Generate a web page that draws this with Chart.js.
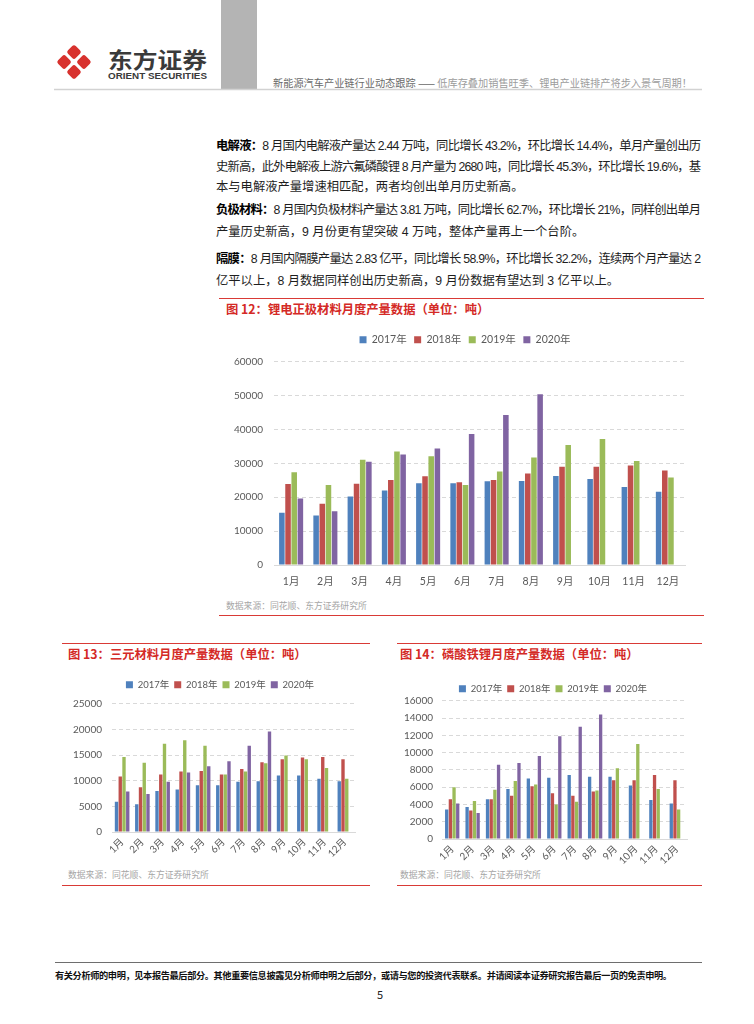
<!DOCTYPE html>
<html>
<head>
<meta charset="utf-8">
<script src="https://cdn.jsdelivr.net/npm/chart.js@4.4.0/dist/chart.umd.min.js"></script>
<style>
html, body { margin: 0; padding: 0; background: #fff; }
#page { position: relative; width: 754px; height: 1024px; overflow: hidden; }
#deco { position: absolute; left: 0; top: 0; }
canvas { position: absolute; }
</style>
</head>
<body>
<div id="page">
<svg id="deco" width="754" height="1024" font-family="'Noto Sans CJK SC', sans-serif">
  <!-- header -->
  <rect x="221" y="0" width="36" height="89" fill="#b4b4b4"/>
  <line x1="54" y1="89.5" x2="702" y2="89.5" stroke="#d2d2d2" stroke-width="1.5"/>
  <g transform="translate(74 62) rotate(45)" fill="#d8322e">
    <rect x="-12.5" y="-12.5" width="11" height="11" rx="2.5"/>
    <rect x="1.5" y="-12.5" width="11" height="11" rx="2.5"/>
    <rect x="-12.5" y="1.5" width="11" height="11" rx="2.5"/>
    <rect x="1.5" y="1.5" width="11" height="11" rx="2.5"/>
  </g>
  <text x="108" y="58" font-size="22" font-weight="bold" fill="#3a3a3a" textLength="99" lengthAdjust="spacingAndGlyphs" dominant-baseline="central">东方证券</text>
  <text x="108" y="76" font-family="'Liberation Sans', sans-serif" font-size="8.5" font-weight="bold" fill="#3a3a3a" textLength="99" lengthAdjust="spacingAndGlyphs" dominant-baseline="central">ORIENT SECURITIES</text>
  <text x="273" y="82" font-size="10.2" textLength="419" lengthAdjust="spacing" dominant-baseline="central"><tspan fill="#6a6a6a">新能源汽车产业链行业动态跟踪 —— </tspan><tspan fill="#9c9c9c">低库存叠加销售旺季、锂电产业链排产将步入景气周期！</tspan></text>

  <!-- body text -->
  <g font-size="12.3" fill="#1e1e1e" font-family="'Liberation Sans', 'Noto Sans CJK SC', sans-serif">
    <text x="216" y="146" textLength="485" lengthAdjust="spacing" dominant-baseline="central"><tspan font-weight="bold" fill="#000">电解液：</tspan>8 月国内电解液产量达 2.44 万吨，同比增长 43.2%，环比增长 14.4%，单月产量创出历</text>
    <text x="216" y="167" textLength="485" lengthAdjust="spacing" dominant-baseline="central">史新高，此外电解液上游六氟磷酸锂 8 月产量为 2680 吨，同比增长 45.3%，环比增长 19.6%，基</text>
    <text x="216" y="187" dominant-baseline="central">本与电解液产量增速相匹配，两者均创出单月历史新高。</text>
    <text x="216" y="210" textLength="485" lengthAdjust="spacing" dominant-baseline="central"><tspan font-weight="bold" fill="#000">负极材料：</tspan>8 月国内负极材料产量达 3.81 万吨，同比增长 62.7%，环比增长 21%，同样创出单月</text>
    <text x="216" y="232" dominant-baseline="central">产量历史新高，9 月份更有望突破 4 万吨，整体产量再上一个台阶。</text>
    <text x="216" y="259" textLength="485" lengthAdjust="spacing" dominant-baseline="central"><tspan font-weight="bold" fill="#000">隔膜：</tspan>8 月国内隔膜产量达 2.83 亿平，同比增长 58.9%，环比增长 32.2%，连续两个月产量达 2</text>
    <text x="216" y="281" dominant-baseline="central">亿平以上，8 月数据同样创出历史新高，9 月份数据有望达到 3 亿平以上。</text>
  </g>

  <!-- chart frames -->
  <g stroke="#d93a36" stroke-width="1.2">
    <line x1="219" y1="298.5" x2="704" y2="298.5"/>
    <line x1="219" y1="615.5" x2="704" y2="615.5"/>
    <line x1="62" y1="643.5" x2="370" y2="643.5"/>
    <line x1="62" y1="885.5" x2="370" y2="885.5"/>
    <line x1="397" y1="643.5" x2="702" y2="643.5"/>
    <line x1="397" y1="885.5" x2="702" y2="885.5"/>
  </g>
  <g font-size="12.3" font-weight="bold" fill="#d42a26">
    <text x="226" y="309" dominant-baseline="central">图 12：锂电正极材料月度产量数据（单位：吨）</text>
    <text x="68" y="654" dominant-baseline="central">图 13：三元材料月度产量数据（单位：吨）</text>
    <text x="400" y="654" dominant-baseline="central">图 14：磷酸铁锂月度产量数据（单位：吨）</text>
  </g>
  <g font-size="8.8" fill="#a6a6a6">
    <text x="226" y="605" dominant-baseline="central">数据来源：同花顺、东方证券研究所</text>
    <text x="68" y="874" dominant-baseline="central">数据来源：同花顺、东方证券研究所</text>
    <text x="400" y="874" dominant-baseline="central">数据来源：同花顺、东方证券研究所</text>
  </g>

  <!-- footer -->
  <line x1="55" y1="962.5" x2="702" y2="962.5" stroke="#6e6e6e" stroke-width="1"/>
  <text x="55" y="975" font-size="9.2" font-weight="bold" fill="#111" textLength="617" lengthAdjust="spacing" dominant-baseline="central">有关分析师的申明，见本报告最后部分。其他重要信息披露见分析师申明之后部分，或请与您的投资代表联系。并请阅读本证券研究报告最后一页的免责申明。</text>
  <text x="380" y="994" font-size="11" fill="#222" text-anchor="middle" dominant-baseline="central">5</text>
</svg>

<canvas id="chart12" width="473" height="268" style="left:222px;top:327px"></canvas>
<canvas id="chart13" width="303" height="191" style="left:62px;top:675px"></canvas>
<canvas id="chart14" width="300" height="194" style="left:397px;top:679px"></canvas>
</div>

<script>
// categories and series
const months = ['1月', '2月', '3月', '4月', '5月', '6月', '7月', '8月', '9月', '10月', '11月', '12月'];
const years = ['2017年', '2018年', '2019年', '2020年'];
const yearColors = ['#4f81bd', '#c0504d', '#9bbb59', '#8064a2'];

// 图12 锂电正极材料 (吨)
const cathode2017 = [15400, 14600, 20200, 22000, 24100, 24100, 24700, 24800, 26300, 25400, 23000, 21600];
const cathode2018 = [23900, 18100, 24000, 25100, 26200, 24400, 25100, 27000, 29000, 29000, 29400, 27900];
const cathode2019 = [27400, 23600, 31100, 33500, 32100, 23600, 27600, 31700, 35400, 37200, 30700, 25800];
const cathode2020 = [19600, 15900, 30500, 32600, 34400, 38700, 44300, 50400, null, null, null, null];

// 图13 三元材料 (吨)
const ternary2017 = [5900, 5400, 8000, 8300, 9100, 9100, 9800, 9900, 11000, 11000, 10400, 9900];
const ternary2018 = [10800, 8700, 11200, 11800, 11900, 11200, 12300, 13600, 14200, 14500, 14600, 14200];
const ternary2019 = [14600, 13500, 17200, 17900, 16800, 11200, 11800, 13400, 14900, 14200, 12500, 10400];
const ternary2020 = [7900, 7400, 9800, 11600, 12800, 13800, 16800, 19600, null, null, null, null];

// 图14 磷酸铁锂 (吨)
const lfp2017 = [3400, 3700, 4600, 5800, 7000, 7100, 7400, 7200, 7200, 6200, 4500, 4100];
const lfp2018 = [4600, 3300, 4600, 5000, 6100, 5300, 5000, 5500, 6800, 6800, 7400, 6800];
const lfp2019 = [6000, 4400, 5700, 6700, 6300, 4000, 4300, 5600, 8200, 11000, 5800, 3400];
const lfp2020 = [4100, 3000, 8600, 8800, 9600, 11900, 13000, 14400, null, null, null, null];

const FONT = 'Lato, "Noto Sans CJK SC", sans-serif';
const TEXT_GREY = '#595959';
const GRID_GREY = '#d9d9d9';

// extra space under the legend, and a sideways nudge so it sits over the plot
function legendTweak(gap, dx) {
    return {
        id: 'legendTweak',
        beforeInit(chart) {
            if (!chart.legend) return;
            const fit = chart.legend.fit;
            chart.legend.fit = function () {
                fit.bind(chart.legend)();
                this.height += gap;
            };
        },
        afterLayout(chart) {
            if (!chart.legend) return;
            chart.legend.left += dx;
            chart.legend.right += dx;
        }
    };
}

function makeBarChart(id, series, cfg) {
    const datasets = series.map((data, i) => ({
        label: years[i],
        data: data,
        backgroundColor: yearColors[i],
        borderWidth: 0,
        barPercentage: 0.9,
        categoryPercentage: cfg.cat
    }));

    return new Chart(document.getElementById(id), {
        type: 'bar',
        data: { labels: months, datasets: datasets },
        options: {
            responsive: false,
            animation: false,
            layout: { padding: { left: 0, right: cfg.padR, top: 0, bottom: 0 } },
            plugins: {
                legend: {
                    position: 'top',
                    labels: {
                        boxWidth: 7,
                        boxHeight: 7,
                        padding: cfg.legPad,
                        color: TEXT_GREY,
                        font: { size: cfg.legFont, family: FONT }
                    }
                },
                tooltip: { enabled: false }
            },
            scales: {
                x: {
                    grid: { display: false, drawTicks: false },
                    border: { color: GRID_GREY, width: 1 },
                    ticks: {
                        color: TEXT_GREY,
                        font: { size: cfg.xFont, family: FONT },
                        padding: cfg.xPad,
                        autoSkip: false,
                        minRotation: cfg.rot,
                        maxRotation: cfg.rot
                    },
                    afterFit: (s) => { s.height = cfg.xH; }
                },
                y: {
                    min: 0,
                    max: cfg.max,
                    grid: { color: GRID_GREY, drawTicks: false },
                    border: { display: false, dash: [4, 3] },
                    ticks: {
                        stepSize: cfg.step,
                        color: TEXT_GREY,
                        font: { size: 10, family: FONT },
                        padding: cfg.yPad,
                        callback: (v) => String(v)
                    },
                    afterFit: (s) => { s.width = cfg.yW; }
                }
            }
        },
        plugins: [legendTweak(cfg.gap, cfg.legDx)]
    });
}

makeBarChart('chart12', [cathode2017, cathode2018, cathode2019, cathode2020], {
    padR: 10, yW: 52, yPad: 11, xH: 30, xPad: 10, xFont: 10.5, rot: 0,
    legFont: 10.5, legPad: 7.5, gap: 6.75, legDx: 11.5, max: 60000, step: 10000, cat: 0.72
});

makeBarChart('chart13', [ternary2017, ternary2018, ternary2019, ternary2020], {
    padR: 10, yW: 50, yPad: 10, xH: 34, xPad: 4, xFont: 10, rot: 45,
    legFont: 9.5, legPad: 5, gap: 4.25, legDx: 11.5, max: 25000, step: 5000, cat: 0.74
});

makeBarChart('chart14', [lfp2017, lfp2018, lfp2019, lfp2020], {
    padR: 10, yW: 45, yPad: 9, xH: 34, xPad: 4, xFont: 10, rot: 45,
    legFont: 9.5, legPad: 5, gap: -2.75, legDx: 11, max: 16000, step: 2000, cat: 0.72
});
</script>
</body>
</html>
